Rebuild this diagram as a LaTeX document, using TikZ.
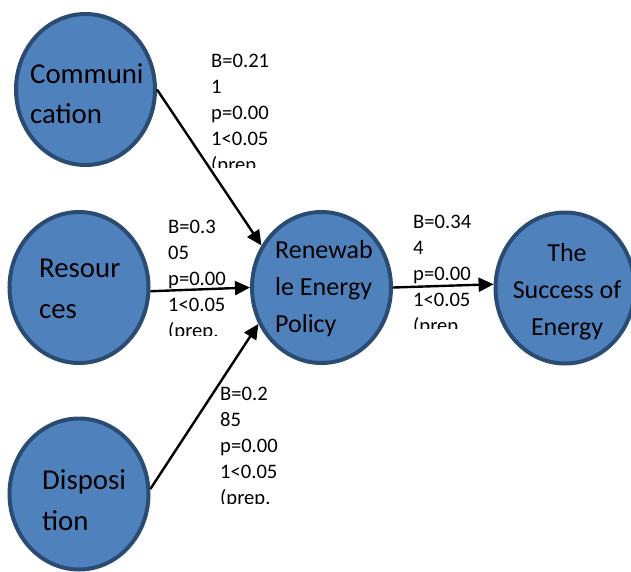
\documentclass[tikz,border=0pt]{standalone}
\usepackage{fontspec}
\setmainfont{Carlito}
\usetikzlibrary{shapes.geometric, arrows.meta}
\definecolor{blobfill}{HTML}{4F81BD}
\definecolor{blobline}{HTML}{2B4C72}

\begin{document}
\begin{tikzpicture}[x=1pt, y=-1pt,
    blob/.style={ellipse, draw=blobline, line width=4pt, fill=blobfill,
      minimum width=139pt, minimum height=151pt, inner sep=0pt},
    bigtext/.style={inner sep=0pt, align=left, anchor=north west,
      font=\fontsize{28.8}{40.7}\selectfont},
    midtext/.style={inner sep=0pt, font=\fontsize{26}{37}\selectfont},
    coef/.style={inner sep=0pt, align=left, anchor=north west,
      font=\fontsize{20.6}{26}\selectfont},
    link/.style={line width=2.4pt, -{Triangle[length=15pt, width=14pt]}}]
  \useasboundingbox (0,0) rectangle (631,571);

  % the five factors
  \node[blob] (comm) at (85.5,89.5) {};
  \node[blob] (res)  at (79,287.5) {};
  \node[blob] (disp) at (79,494) {};
  \node[blob] (ren)  at (321.5,287.5) {};
  \node[blob] (succ) at (565,288) {};

  \node[bigtext] (commtxt) at (30,63) {Communi\\cation};
  \node[bigtext] (restxt)  at (39,259) {Resour\\ces};
  \node[bigtext] (disptxt) at (42,469.5) {Disposi\\tion};
  \node[midtext, align=left, anchor=north west] (rentxt) at (275,240)
    {Renewab\\le Energy\\Policy};
  \node[midtext, align=center, anchor=north] (succtxt) at (567,243)
    {The\\Success of\\Energy};

  % coefficients, cut off like text boxes
  \begin{scope}
    \clip (200,40) rectangle (300,167);
    \node[coef] (coefcomm) at (211,53.5) {B=0.21\\1\\p=0.00\\1<0.05\\(prep.};
  \end{scope}
  \begin{scope}
    \clip (160,200) rectangle (248,335);
    \node[coef] (coefres) at (168,220) {B=0.3\\05\\p=0.00\\1<0.05\\(prep.};
  \end{scope}
  \begin{scope}
    \clip (210,370) rectangle (300,503);
    \node[coef] (coefdisp) at (220,387) {B=0.2\\85\\p=0.00\\1<0.05\\(prep.};
  \end{scope}
  \begin{scope}
    \clip (400,200) rectangle (490,328);
    \node[coef] (coefren) at (413,215) {B=0.34\\4\\p=0.00\\1<0.05\\(prep.};
  \end{scope}

  % paths
  \draw[link] (comm.east) -- (ren.145);
  \draw[link] (res.-3) -- (ren.west);
  \draw[link] (disp.4) -- (ren.210);
  \draw[link] (ren.east) -- (succ.177);
\end{tikzpicture}
\end{document}
